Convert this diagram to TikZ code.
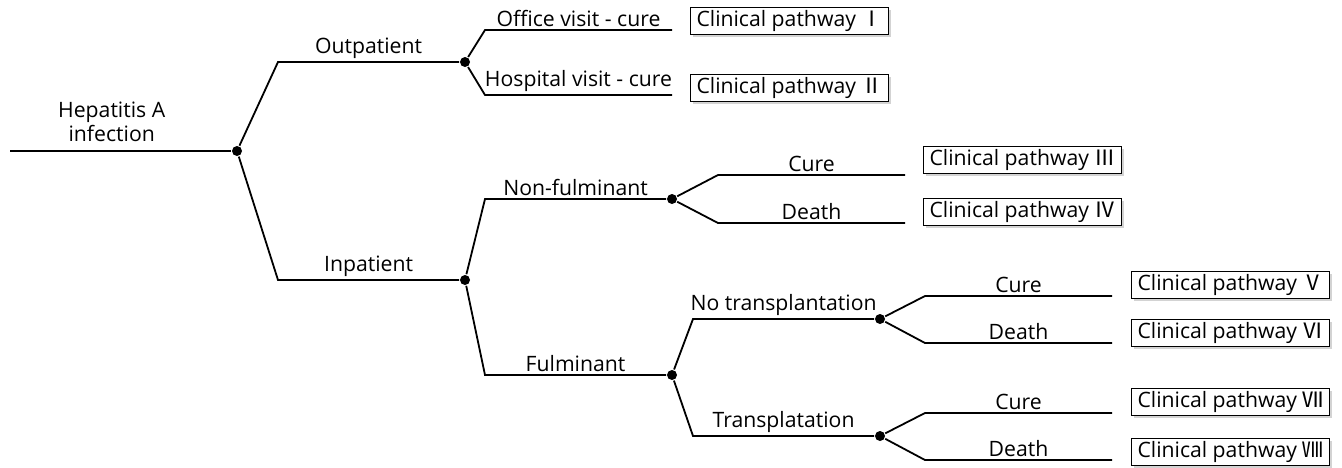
\documentclass[tikz,border=0pt]{standalone}
\usepackage{fontspec}
\setmainfont{Open Sans}
\newfontfamily\cjk{Noto Sans CJK KR}
\usetikzlibrary{shadows}

\begin{document}
\begin{tikzpicture}[x=0.5pt,y=-0.5pt,line width=0.9pt,font=\fontsize{10.6}{13}\selectfont]
\tikzstyle{chance}=[circle,fill,inner sep=0pt,minimum size=5pt]
\tikzstyle{branch}=[to path={-- ([xshift=-93.5pt]\tikztotarget.center) -- (\tikztotarget) \tikztonodes}]
\tikzstyle{lab}=[midway,above,inner sep=1.2pt]
\tikzstyle{pathbox}=[draw,fill=white,line width=0.5pt,anchor=west,inner xsep=3pt,inner ysep=1.3pt,
  drop shadow={opacity=0.35,shadow xshift=1.3pt,shadow yshift=-1.3pt}]

\useasboundingbox (0,0) rectangle (1342,467);

% chance nodes
\coordinate (start) at (10,151);
\node[chance] (root) at (237,151) {};
\node[chance] (out) at (465,62) {};
\node[chance] (inp) at (465,280) {};
\node[chance] (nonf) at (672,199) {};
\node[chance] (fulm) at (672,375) {};
\node[chance] (notx) at (880,319) {};
\node[chance] (tx) at (880,436) {};

% leaf ends
\coordinate (office) at (672,30);
\coordinate (hosp) at (672,95);
\coordinate (cureA) at (905,175);
\coordinate (deathA) at (905,223);
\coordinate (cureB) at (1112,296);
\coordinate (deathB) at (1112,343);
\coordinate (cureC) at (1112,413);
\coordinate (deathC) at (1112,460);

% branches
\draw (start) -- node[lab,pos=0.46,align=center,inner sep=4pt]{Hepatitis A\\[-1pt]infection} (root);
\draw (root) to[branch] node[lab]{Outpatient} (out);
\draw (root) to[branch] node[lab]{Inpatient} (inp);
\draw (out) to[branch] node[lab]{Office visit - cure} (office);
\draw (out) to[branch] node[lab]{Hospital visit - cure} (hosp);
\draw (inp) to[branch] node[lab]{Non-fulminant} (nonf);
\draw (inp) to[branch] node[lab]{Fulminant} (fulm);
\draw (nonf) to[branch] node[lab]{Cure} (cureA);
\draw (nonf) to[branch] node[lab]{Death} (deathA);
\draw (fulm) to[branch] node[lab]{No transplantation} (notx);
\draw (fulm) to[branch] node[lab]{Transplatation} (tx);
\draw (notx) to[branch] node[lab]{Cure} (cureB);
\draw (notx) to[branch] node[lab]{Death} (deathB);
\draw (tx) to[branch] node[lab]{Cure} (cureC);
\draw (tx) to[branch] node[lab]{Death} (deathC);

% outcomes
\node[pathbox] (p1) at (690,21) {Clinical pathway {\cjk Ⅰ}};
\node[pathbox] (p2) at (690,88) {Clinical pathway {\cjk Ⅱ}};
\node[pathbox] (p3) at (923,160) {Clinical pathway {\cjk Ⅲ}};
\node[pathbox] (p4) at (923,212) {Clinical pathway {\cjk Ⅳ}};
\node[pathbox] (p5) at (1131,285) {Clinical pathway {\cjk Ⅴ}};
\node[pathbox] (p6) at (1131,333) {Clinical pathway {\cjk Ⅵ}};
\node[pathbox] (p7) at (1131,402) {Clinical pathway {\cjk Ⅶ}};
\node[pathbox] (p8) at (1131,452) {Clinical pathway {\cjk Ⅷ}};
\end{tikzpicture}
\end{document}
